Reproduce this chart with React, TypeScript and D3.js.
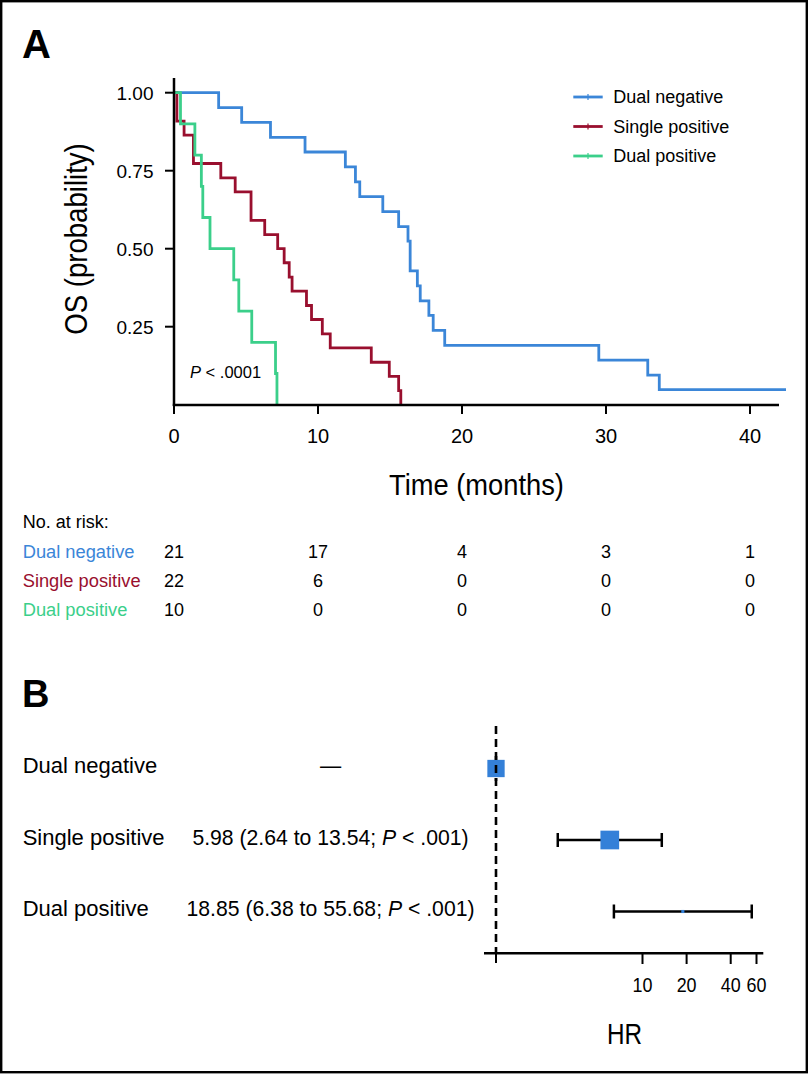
import React from "react";
import * as d3 from "d3";

// ---------- Data ----------
const groups = ["Dual negative", "Single positive", "Dual positive"];
const groupColors = ["#3b86d8", "#990f2e", "#3bcf8a"];

const dualNegTimes = [0, 3.1, 4.7, 6.7, 9.1, 11.9, 12.6, 12.9, 14.5, 15.6, 16.25, 16.4, 16.9, 17.1, 17.7, 18.0, 18.8, 29.5, 32.9, 33.7, 42.5];
const dualNegSurv = [1, 0.952, 0.905, 0.857, 0.81, 0.762, 0.714, 0.667, 0.619, 0.571, 0.524, 0.429, 0.381, 0.333, 0.286, 0.238, 0.19, 0.143, 0.095, 0.048, 0.048];

const singlePosTimes = [0, 0.2, 0.7, 1.35, 3.25, 4.25, 5.35, 6.3, 7.2, 7.65, 8.0, 8.2, 9.2, 9.55, 10.3, 10.85, 13.7, 14.95, 15.6, 15.75];
const singlePosSurv = [1, 0.909, 0.864, 0.773, 0.727, 0.682, 0.591, 0.545, 0.5, 0.455, 0.409, 0.364, 0.318, 0.273, 0.227, 0.182, 0.136, 0.091, 0.045, 0];

const dualPosTimes = [0, 0.45, 1.45, 1.9, 2.0, 2.5, 4.15, 4.5, 5.4, 7.05, 7.15];
const dualPosSurv = [1, 0.9, 0.8, 0.7, 0.6, 0.5, 0.4, 0.3, 0.2, 0.1, 0];

const kmXTicks = [0, 10, 20, 30, 40];
const kmYTicks = [0.25, 0.5, 0.75, 1.0];
const kmYTickLabels = ["0.25", "0.50", "0.75", "1.00"];

const riskTimes = [0, 10, 20, 30, 40];
const riskDualNeg = [21, 17, 4, 3, 1];
const riskSinglePos = [22, 6, 0, 0, 0];
const riskDualPos = [10, 0, 0, 0, 0];

const forestHR = [1, 5.98, 18.85];
const forestLow = [null, 2.64, 6.38];
const forestHigh = [null, 13.54, 55.68];
const forestWeight = [1.0, 1.08, 0.18];
const forestText = ["—", "5.98 (2.64 to 13.54; ", "18.85 (6.38 to 55.68; "];
const hrTicks = [10, 20, 40, 60];

// ---------- Layout ----------
const W = 808;
const H = 1074;
const FONT = "'Liberation Sans', Arial, Helvetica, sans-serif";

export default function App() {
  const x = d3.scaleLinear().domain([0, 42]).range([174, 778.8]);
  const y = d3.scaleLinear().domain([0, 1]).range([404.7, 92.7]);

  const line = d3
    .line<[number, number]>()
    .x((d) => x(d[0]))
    .y((d) => y(d[1]))
    .curve(d3.curveStepAfter);

  const series = [
    { times: dualNegTimes, surv: dualNegSurv, color: groupColors[0] },
    { times: singlePosTimes, surv: singlePosSurv, color: groupColors[1] },
    { times: dualPosTimes, surv: dualPosSurv, color: groupColors[2] },
  ];

  const risks = [riskDualNeg, riskSinglePos, riskDualPos];

  const legendY = d3.scalePoint<string>().domain(groups).range([97, 156]);
  const riskY = d3.scalePoint<string>().domain(groups).range([558.3, 615.7]);

  const hx = d3.scaleLog().domain([1, 60]).range([496, 756.5]);
  const rowY = d3.scalePoint<string>().domain(groups).range([768.5, 911.5]);
  const sq = d3.scaleLinear().domain([0, 1]).range([0, 17.3]);

  return (
    <svg
      width={W}
      height={H}
      style={{ position: "absolute", left: 0, top: 0, background: "#fff" }}
      fontFamily={FONT}
    >
      <rect x={0} y={0} width={W} height={H} fill="#fff" />
      <rect x={1.2} y={1.2} width={W - 2.4} height={H - 3} fill="none" stroke="#000" strokeWidth={2.4} />

      {/* Panel A */}
      <text x={22} y={58} fontSize={40} fontWeight="bold">A</text>

      {/* KM curves */}
      {series.map((s, i) => (
        <path
          key={i}
          d={line(s.times.map((t, j) => [t, s.surv[j]] as [number, number])) || ""}
          fill="none"
          stroke={s.color}
          strokeWidth={2.8}
        />
      ))}

      {/* Axes */}
      <line x1={174} x2={174} y1={78} y2={406} stroke="#000" strokeWidth={2.5} />
      <line x1={172.8} x2={779} y1={405} y2={405} stroke="#000" strokeWidth={2.5} />
      {kmYTicks.map((t, i) => (
        <g key={t}>
          <line x1={165} x2={174} y1={y(t)} y2={y(t)} stroke="#000" strokeWidth={2} />
          <text x={153.5} y={y(t) + 6.8} fontSize={19} textAnchor="end">{kmYTickLabels[i]}</text>
        </g>
      ))}
      {kmXTicks.map((t) => (
        <g key={t}>
          <line x1={x(t)} x2={x(t)} y1={405} y2={414} stroke="#000" strokeWidth={2} />
          <text x={x(t)} y={443} fontSize={20} textAnchor="middle">{t}</text>
        </g>
      ))}

      <text transform="translate(476.5,495) scale(0.91,1)" fontSize={30} textAnchor="middle">Time (months)</text>
      <text transform="translate(86.5,239) rotate(-90) scale(0.89,1)" fontSize={31} textAnchor="middle">OS (probability)</text>

      <text x={190} y={378.3} fontSize={16.5}>
        <tspan fontStyle="italic">P</tspan>
        <tspan> &lt; .0001</tspan>
      </text>

      {/* Legend */}
      {groups.map((g, i) => (
        <g key={g}>
          <line x1={573.3} x2={602.7} y1={legendY(g)} y2={legendY(g)} stroke={groupColors[i]} strokeWidth={2.8} />
          <line x1={588} x2={588} y1={(legendY(g) as number) - 3} y2={(legendY(g) as number) + 3} stroke={groupColors[i]} strokeWidth={1.2} />
          <text x={613.3} y={(legendY(g) as number) + 6.2} fontSize={18}>{g}</text>
        </g>
      ))}

      {/* Risk table */}
      <text x={22.7} y={528.3} fontSize={18}>No. at risk:</text>
      {groups.map((g, i) => (
        <g key={g}>
          <text x={22.7} y={riskY(g)} fontSize={18.3} fill={groupColors[i]}>{g}</text>
          {risks[i].map((v, j) => (
            <text key={j} x={x(riskTimes[j])} y={riskY(g)} fontSize={18} textAnchor="middle">{v}</text>
          ))}
        </g>
      ))}

      {/* Panel B */}
      <text x={22} y={707} fontSize={38} fontWeight="bold">B</text>

      {groups.map((g, i) => (
        <g key={g}>
          <text x={22.7} y={(rowY(g) as number) + 4.5} fontSize={22}>{g}</text>
          {i === 0 ? (
            <text x={330.5} y={(rowY(g) as number) + 4.5} fontSize={21.2} textAnchor="middle">{forestText[i]}</text>
          ) : (
            <text x={330.5} y={(rowY(g) as number) + 4.5} fontSize={21.2} textAnchor="middle">
              <tspan>{forestText[i]}</tspan>
              <tspan fontStyle="italic">P</tspan>
              <tspan> &lt; .001)</tspan>
            </text>
          )}
        </g>
      ))}

      {/* reference line */}
      <line x1={hx(1)} x2={hx(1)} y1={726} y2={953} stroke="#000" strokeWidth={2.6} strokeDasharray="8,5" />

      {groups.map((g, i) => {
        const cy = rowY(g) as number;
        const s = sq(forestWeight[i]);
        const lo = forestLow[i];
        const hi = forestHigh[i];
        return (
          <g key={g}>
            {lo !== null && hi !== null && (
              <g>
                <line x1={hx(lo)} x2={hx(hi)} y1={cy} y2={cy} stroke="#000" strokeWidth={2.5} />
                <line x1={hx(lo)} x2={hx(lo)} y1={cy - 7} y2={cy + 7} stroke="#000" strokeWidth={2.5} />
                <line x1={hx(hi)} x2={hx(hi)} y1={cy - 7} y2={cy + 7} stroke="#000" strokeWidth={2.5} />
              </g>
            )}
            <rect x={hx(forestHR[i]) - s / 2} y={cy - s / 2} width={s} height={s} fill="#3480d8" />
          </g>
        );
      })}
      {/* dashed line drawn over first square */}
      <line x1={hx(1)} x2={hx(1)} y1={756} y2={781} stroke="#000" strokeWidth={2.6} strokeDasharray="8,5" strokeDashoffset={4} />

      <line x1={484} x2={763.3} y1={953.3} y2={953.3} stroke="#000" strokeWidth={2.5} />
      <line x1={hx(1)} x2={hx(1)} y1={953} y2={963} stroke="#000" strokeWidth={2} />
      {hrTicks.map((t) => (
        <g key={t}>
          <line x1={hx(t)} x2={hx(t)} y1={953} y2={964} stroke="#000" strokeWidth={2} />
          <text transform={`translate(${hx(t)},992.3) scale(0.92,1)`} fontSize={19.5} textAnchor="middle">{t}</text>
        </g>
      ))}
      <text transform="translate(624.5,1044) scale(0.81,1)" fontSize={30} textAnchor="middle">HR</text>
    </svg>
  );
}
